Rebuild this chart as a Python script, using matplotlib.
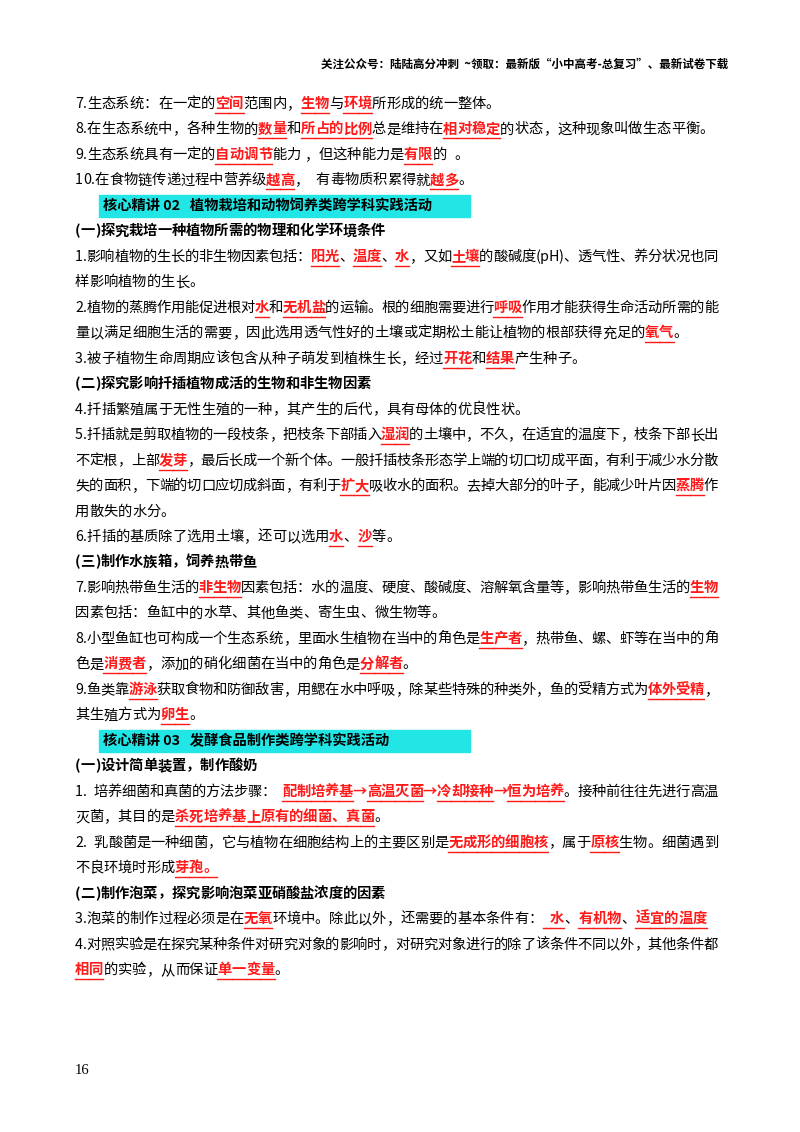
import matplotlib.pyplot as plt
from matplotlib.lines import Line2D
from matplotlib.patches import Rectangle

plt.rcParams['font.family'] = ['Noto Sans CJK SC', 'DejaVu Sans']

header = "关注公众号：陆陆高分冲刺  ~领取：最新版“小中高考-总复习”、最新试卷下载"
page_no = "16"

# kind: n = normal, j = justified, b = bold subheading, h = cyan heading
# {...} marks red, bold, underlined answers
lines = [
    ("n", "7.生态系统：在一定的{空间}范围内，{生物}与{环境}所形成的统一整体。"),
    ("n", "8.在生态系统中，各种生物的{数量}和{所占的比例}总是维持在{相对稳定}的状态，这种现象叫做生态平衡。"),
    ("n", "9.生态系统具有一定的{自动调节}能力 ，但这种能力是{有限}的  。"),
    ("n", "10.在食物链传递过程中营养级{越高}，  有毒物质积累得就{越多}。"),
    ("h", "核心精讲 02   植物栽培和动物饲养类跨学科实践活动"),
    ("b", "(一)探究栽培一种植物所需的物理和化学环境条件"),
    ("j", "1.影响植物的生长的非生物因素包括：{阳光}、{温度}、{水}，又如{土壤}的酸碱度(pH)、透气性、养分状况也同"),
    ("n", "样影响植物的生长。"),
    ("j", "2.植物的蒸腾作用能促进根对{水}和{无机盐}的运输。根的细胞需要进行{呼吸}作用才能获得生命活动所需的能"),
    ("n", "量以满足细胞生活的需要，因此选用透气性好的土壤或定期松土能让植物的根部获得充足的{氧气}。"),
    ("n", "3.被子植物生命周期应该包含从种子萌发到植株生长，经过{开花}和{结果}产生种子。"),
    ("b", "(二)探究影响扦插植物成活的生物和非生物因素"),
    ("n", "4.扦插繁殖属于无性生殖的一种，其产生的后代，具有母体的优良性状。"),
    ("j", "5.扦插就是剪取植物的一段枝条，把枝条下部插入{湿润}的土壤中，不久，在适宜的温度下，枝条下部长出"),
    ("j", "不定根，上部{发芽}，最后长成一个新个体。一般扦插枝条形态学上端的切口切成平面，有利于减少水分散"),
    ("j", "失的面积，下端的切口应切成斜面，有利于{扩大}吸收水的面积。去掉大部分的叶子，能减少叶片因{蒸腾}作"),
    ("n", "用散失的水分。"),
    ("n", "6.扦插的基质除了选用土壤，还可以选用{水}、{沙}等。"),
    ("b", "(三)制作水族箱，饲养热带鱼"),
    ("j", "7.影响热带鱼生活的{非生物}因素包括：水的温度、硬度、酸碱度、溶解氧含量等，影响热带鱼生活的{生物}"),
    ("n", "因素包括：鱼缸中的水草、其他鱼类、寄生虫、微生物等。"),
    ("j", "8.小型鱼缸也可构成一个生态系统，里面水生植物在当中的角色是{生产者}，热带鱼、螺、虾等在当中的角"),
    ("n", "色是{消费者}，添加的硝化细菌在当中的角色是{分解者}。"),
    ("j", "9.鱼类靠{游泳}获取食物和防御敌害，用鳃在水中呼吸，除某些特殊的种类外，鱼的受精方式为{体外受精}，"),
    ("n", "其生殖方式为{卵生}。"),
    ("h", "核心精讲 03   发酵食品制作类跨学科实践活动"),
    ("b", "(一)设计简单装置，制作酸奶"),
    ("j", "1.  培养细菌和真菌的方法步骤：  {配制培养基→高温灭菌→冷却接种→恒为培养}。接种前往往先进行高温"),
    ("n", "灭菌，其目的是{杀死培养基上原有的细菌、真菌}。"),
    ("j", "2.  乳酸菌是一种细菌，它与植物在细胞结构上的主要区别是{无成形的细胞核}，属于{原核}生物。细菌遇到"),
    ("n", "不良环境时形成{芽孢。}"),
    ("b", "(二)制作泡菜，探究影响泡菜亚硝酸盐浓度的因素"),
    ("n", "3.泡菜的制作过程必须是在{无氧}环境中。除此以外，还需要的基本条件有：{  水}、{有机物}、{适宜的温度}"),
    ("j", "4.对照实验是在探究某种条件对研究对象的影响时，对研究对象进行的除了该条件不同以外，其他条件都"),
    ("n", "{相同}的实验，从而保证{单一变量}。"),
]

W, H = 800, 1132
fig = plt.figure(figsize=(W / 100, H / 100), dpi=100)
fig.patch.set_facecolor('white')
r = fig.canvas.get_renderer()
FS = 10.3
LEFT, RIGHT = 75, 718


def fx(x):
    return x / W


def fy(y):
    return 1 - y / H


def parse(s):
    out, red = [], False
    for ch in s:
        if ch == '{':
            red = True
        elif ch == '}':
            red = False
        else:
            out.append((ch, red))
    return out


fig.text(fx(728), fy(64), header, ha='right', va='center', fontsize=8.3, fontweight='bold')
fig.text(fx(75), fy(1071), page_no, ha='left', va='center', fontsize=10.5,
         family=['Liberation Serif'])

for i, (kind, s) in enumerate(lines):
    y = 104 + i * 25.47
    if kind == 'h':
        fig.add_artist(Rectangle((fx(99), fy(y + 11)), (470 - 99) / W, 22 / H,
                                 transform=fig.transFigure, color='#22e5e5', zorder=0))
        fig.text(fx(103), fy(y), s, ha='left', va='center', fontsize=FS, fontweight='bold')
        continue
    chars = parse(s)
    arts = []
    for ch, red in chars:
        bold = red or kind == 'b'
        t = fig.text(0, fy(y), ch, ha='left', va='center', fontsize=FS,
                     fontweight='bold' if bold else 'normal',
                     color='#ff1a1a' if red else 'black')
        w = FS * 0.35 if ch == ' ' else t.get_window_extent(r).width
        arts.append((t, w, red, ch))
    total = sum(a[1] for a in arts)
    extra = (RIGHT - LEFT - total) / (len(arts) - 1) if kind == 'j' else 0
    x = LEFT
    for k, (t, w, red, ch) in enumerate(arts):
        t.set_x(fx(x))
        if red and ch != '→':
            nxt_red = k + 1 < len(arts) and arts[k + 1][2] and arts[k + 1][3] != '→'
            x1 = x + w + (extra if nxt_red else 0)
            fig.add_artist(Line2D([fx(x), fx(x1)], [fy(y + 9), fy(y + 9)],
                                  transform=fig.transFigure, color='#ff1a1a', lw=1))
        x += w + extra

fig.savefig('out.png', dpi=100)
